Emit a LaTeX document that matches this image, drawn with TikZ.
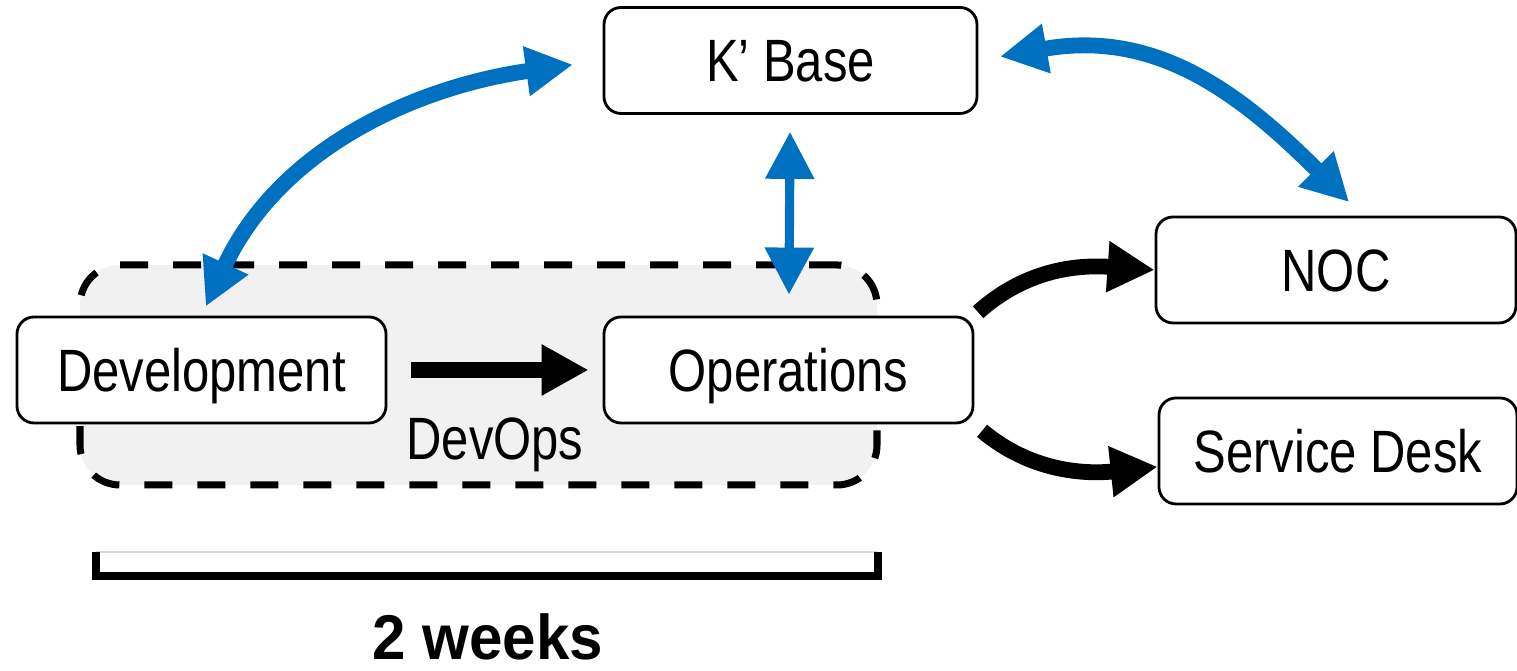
\documentclass[tikz,border=0pt]{standalone}
\usepackage{fontspec}
\setmainfont{Liberation Sans}[FakeStretch=0.82]
\newfontfamily\spanfont{Liberation Sans}[FakeStretch=0.95]
\usepackage{tikz}
\usetikzlibrary{arrows.meta}
\definecolor{KBBlue}{RGB}{0,112,192}
\definecolor{ZoneGray}{RGB}{241,241,241}
\tikzset{
    stagebox/.style={
        draw, rounded corners=0.17cm, line width=0.8pt, fill=white,
        minimum height=1.06cm, inner sep=0pt, text height=0.43cm, text depth=0pt,
        font=\fontsize{17}{20}\selectfont
    },
    zonebox/.style={
        draw, fill=ZoneGray, line width=2pt, rounded corners=0.4cm,
        dash pattern=on 0.28cm off 0.25cm, inner sep=0pt
    },
    kblink/.style={
        KBBlue, {Triangle[length=0.47cm,width=0.47cm]}-{Triangle[length=0.47cm,width=0.47cm]}
    },
    flowptr/.style={
        black, line width=4.5pt, -{Triangle[length=0.47cm,width=0.48cm]}
    }
}

\begin{document}
\begin{tikzpicture}[
    curvelink/.style={kblink, line width=4.5pt},
    straightlink/.style={kblink, line width=2.6pt}
]
\useasboundingbox (0,0) rectangle (15.17,6.71);

% --- DEVOPS ZONE ---
\node[zonebox, minimum width=7.97cm, minimum height=2.2cm] (zone) at (4.785,2.96) {};

% --- BOXES ---
\node[stagebox, minimum width=3.69cm] (dev) at (2.015,3.01) {Development};
\node[stagebox, minimum width=3.69cm] (ops) at (7.885,3.01) {Operations};
\node[stagebox, minimum width=3.73cm] (kbase) at (7.905,6.105) {K’ Base};
\node[stagebox, minimum width=3.60cm] (noc) at (13.36,4.01) {NOC};
\node[stagebox, minimum width=3.58cm] (sdesk) at (13.38,2.20) {Service Desk};
\node[font=\fontsize{17}{20}\selectfont, text height=0.43cm, text depth=0pt] (devops) at (4.95,2.33) {DevOps};

% --- ARROWS ---
\draw[flowptr, shorten <=0.24cm, shorten >=0.14cm] (dev) -- (ops);
\draw[straightlink, shorten <=0.17cm, shorten >=0.21cm] (kbase) -- (ops);
\draw[curvelink, shorten <=0.1cm, shorten >=0.3cm] (dev.north) to[out=65, in=188] (kbase.west);
\draw[curvelink, shorten <=0.22cm, shorten >=0.19cm] (kbase.east) to[out=10, in=135, looseness=1.1] (noc.64);
\draw[flowptr, shorten <=0.05cm] (ops.north east) to[out=42, in=176] (noc.west);
\draw[flowptr, shorten <=0.1cm] (ops.south east) to[out=-40, in=186] (sdesk.185);

% --- TIME SPAN ---
\draw[gray!30, line width=0.4pt] (0.96,1.19) -- (8.78,1.19);
\draw[line width=2.3pt] (0.96,1.19) -- (0.96,0.95) -- (8.78,0.95) -- (8.78,1.19);
\node[font=\spanfont\bfseries\fontsize{18}{20}\selectfont, inner sep=0pt, text height=0.46cm, text depth=0pt] (span) at (4.88,0.34) {2 weeks};

\end{tikzpicture}
\end{document}
